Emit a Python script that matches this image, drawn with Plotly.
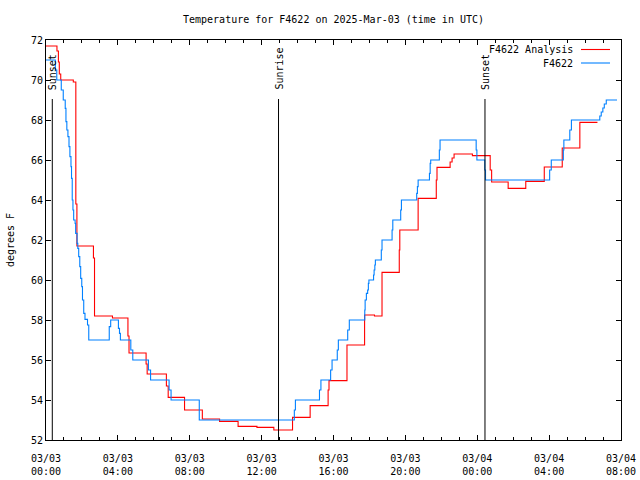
import pandas as pd
import plotly.graph_objects as go

BASE = pd.Timestamp("2025-03-03 00:00")

# F4622 Analysis (hours since 03/03 00:00 UTC, degrees F)
analysis_hours = [0.00, 0.61, 0.69, 0.74, 0.82, 1.52, 1.66, 1.72, 2.64, 2.70, 3.70, 4.56, 4.62,
                  5.57, 5.63, 6.70, 6.80, 7.71, 8.70, 9.66, 10.69, 11.74, 12.68, 13.72, 14.70,
                  15.70, 15.75, 16.75, 17.73, 18.28, 18.70, 19.66, 19.69, 20.71, 21.72, 21.76,
                  22.49, 22.60, 22.71, 23.73, 24.72, 24.80, 25.72, 26.70, 27.73, 28.73, 29.71, 30.69]
analysis_vals = [71.7, 71.45, 70.9, 70.3, 70.0, 69.9, 63.8, 61.7, 61.1, 58.2, 58.1, 57.2, 56.35,
                 55.8, 55.3, 54.7, 54.13, 53.5, 53.05, 52.93, 52.68, 52.63, 52.5, 53.13, 53.72,
                 54.5, 54.97, 56.75, 58.25, 58.2, 60.38, 61.5, 62.5, 64.08, 65.0, 65.63,
                 65.9, 66.1, 66.3, 66.22, 65.5, 64.9, 64.58, 64.93, 65.65, 66.6, 67.88, 67.88]

# F4622 observations
obs_hours = [0.00, 0.52, 0.60, 0.85, 0.96, 1.07, 1.11, 1.16, 1.22, 1.28, 1.33, 1.39, 1.42, 1.46,
             1.50, 1.54, 1.62, 1.65, 1.73, 1.77, 1.82, 1.88, 1.93, 1.99, 2.03, 2.10, 2.17, 2.31,
             2.38, 3.52, 3.60, 4.03, 4.09, 4.14, 4.72, 4.83, 5.70, 5.82, 6.85, 6.96, 8.53,
             13.82, 13.88, 15.22, 15.30, 15.84, 15.92, 16.21, 16.27, 16.79, 16.88,
             17.74, 17.76, 17.83, 17.90, 17.94, 17.97, 18.23, 18.26, 18.30, 18.33, 18.66, 18.70,
             19.26, 19.30, 19.74, 19.78, 20.63, 20.67, 20.71, 21.34, 21.38, 21.41, 21.89, 21.93,
             23.94, 23.98, 24.42, 24.46, 28.03, 28.12, 28.79, 28.82, 29.15, 29.24,
             30.82, 30.90, 30.99, 31.07, 31.18, 31.78]
obs_vals = [71.0, 70.5, 70.0, 69.5, 69.0, 68.58, 67.92, 67.5, 67.17, 66.67, 66.17, 65.67, 65.08, 64.0,
            63.5, 63.0, 62.83, 62.33, 61.83, 61.58, 61.17, 60.67, 60.08, 59.67, 59.0, 58.33, 58.03, 57.75,
            57.0, 57.67, 58.0, 57.58, 57.33, 57.0, 56.5, 56.0, 55.5, 55.0, 54.5, 54.0, 53.0,
            53.5, 54.0, 54.5, 55.0, 55.5, 56.0, 56.5, 57.0, 57.5, 58.0,
            58.5, 59.0, 59.33, 59.5, 59.83, 60.0, 60.25, 60.5, 60.75, 61.0, 61.5, 62.0,
            62.5, 63.0, 63.5, 64.0, 64.33, 64.67, 65.0, 65.33, 65.83, 66.0, 66.5, 67.0,
            66.5, 66.0, 65.5, 65.0, 65.5, 66.0, 66.5, 67.0, 67.5, 68.0,
            68.2, 68.4, 68.6, 68.8, 69.0, 69.0]

event_labels = ["Sunset", "Sunrise", "Sunset"]
event_hours = [0.35, 12.94, 24.43]

series_names = ["F4622 Analysis", "F4622"]
series_colors = ["#ff0000", "#0080ff"]

def to_time(hours):
    return [BASE + pd.Timedelta(hours=h) for h in hours]

FONT = "DejaVu Sans Mono"
L, R, T, B = 46, 621, 40, 440

def px_x(px):
    return (px - L) / (R - L)

def px_y(py):
    return 1 - (py - T) / (B - T)

fig = go.Figure()
fig.add_trace(go.Scatter(x=to_time(analysis_hours), y=analysis_vals, mode="lines",
                         line=dict(color=series_colors[0], width=1.1, shape="hv"),
                         name=series_names[0], showlegend=False))
fig.add_trace(go.Scatter(x=to_time(obs_hours), y=obs_vals, mode="lines",
                         line=dict(color=series_colors[1], width=1.1, shape="hv"),
                         name=series_names[1], showlegend=False))

for lab, h in zip(event_labels, event_hours):
    t = BASE + pd.Timedelta(hours=h)
    fig.add_shape(type="line", x0=t, x1=t, y0=52, y1=69.05, xref="x", yref="y",
                  line=dict(color="black", width=1))
    fig.add_annotation(x=t, y=69.4, xref="x", yref="y", text=lab, textangle=-90,
                       showarrow=False, xanchor="center", yanchor="bottom",
                       font=dict(family=FONT, size=10, color="black"))

# gnuplot-style key: text left of the line sample
for i, (nm, col) in enumerate(zip(series_names, series_colors)):
    yp = px_y(49.5 + 13.5 * i)
    fig.add_annotation(x=px_x(575), y=yp, xref="paper", yref="paper", text=nm, showarrow=False,
                       xanchor="right", yanchor="middle", font=dict(family=FONT, size=10, color="black"))
    fig.add_shape(type="line", x0=px_x(581), x1=px_x(610), y0=yp, y1=yp, xref="paper", yref="paper",
                  line=dict(color=col, width=1.1))

fig.update_layout(
    width=640, height=480,
    margin=dict(l=L, r=640 - R, t=T, b=480 - B, autoexpand=False),
    paper_bgcolor="white", plot_bgcolor="white",
    font=dict(family=FONT, size=10, color="black"),
    title=dict(text="Temperature for F4622 on 2025-Mar-03 (time in UTC)", x=0.5, xref="paper",
               xanchor="center", y=1 - 19 / 480, yanchor="middle", yref="container",
               font=dict(family=FONT, size=10, color="black")),
)
fig.update_xaxes(
    type="date", range=[BASE, BASE + pd.Timedelta(hours=32)],
    dtick=4 * 3600000, tick0=BASE, tickformat="%m/%d<br>%H:%M",
    ticks="inside", ticklen=5, tickcolor="black", tickwidth=1,
    minor=dict(dtick=3600000, ticks="inside", ticklen=3, tickcolor="black", showgrid=False),
    showline=True, linecolor="black", linewidth=1, mirror="ticks",
    showgrid=False, zeroline=False, tickfont=dict(family=FONT, size=10),
    ticklabelstandoff=9,
)
fig.update_yaxes(
    range=[52, 72], dtick=2, ticks="inside", ticklen=5, tickcolor="black",
    showline=True, linecolor="black", linewidth=1, mirror="ticks",
    showgrid=False, zeroline=False, tickfont=dict(family=FONT, size=10),
    title=dict(text="degrees F", font=dict(family=FONT, size=10), standoff=14),
)

fig.write_html("out.html", config={"displayModeBar": False},
               post_script="document.body.style.margin='0px';document.body.style.overflow='hidden';")
